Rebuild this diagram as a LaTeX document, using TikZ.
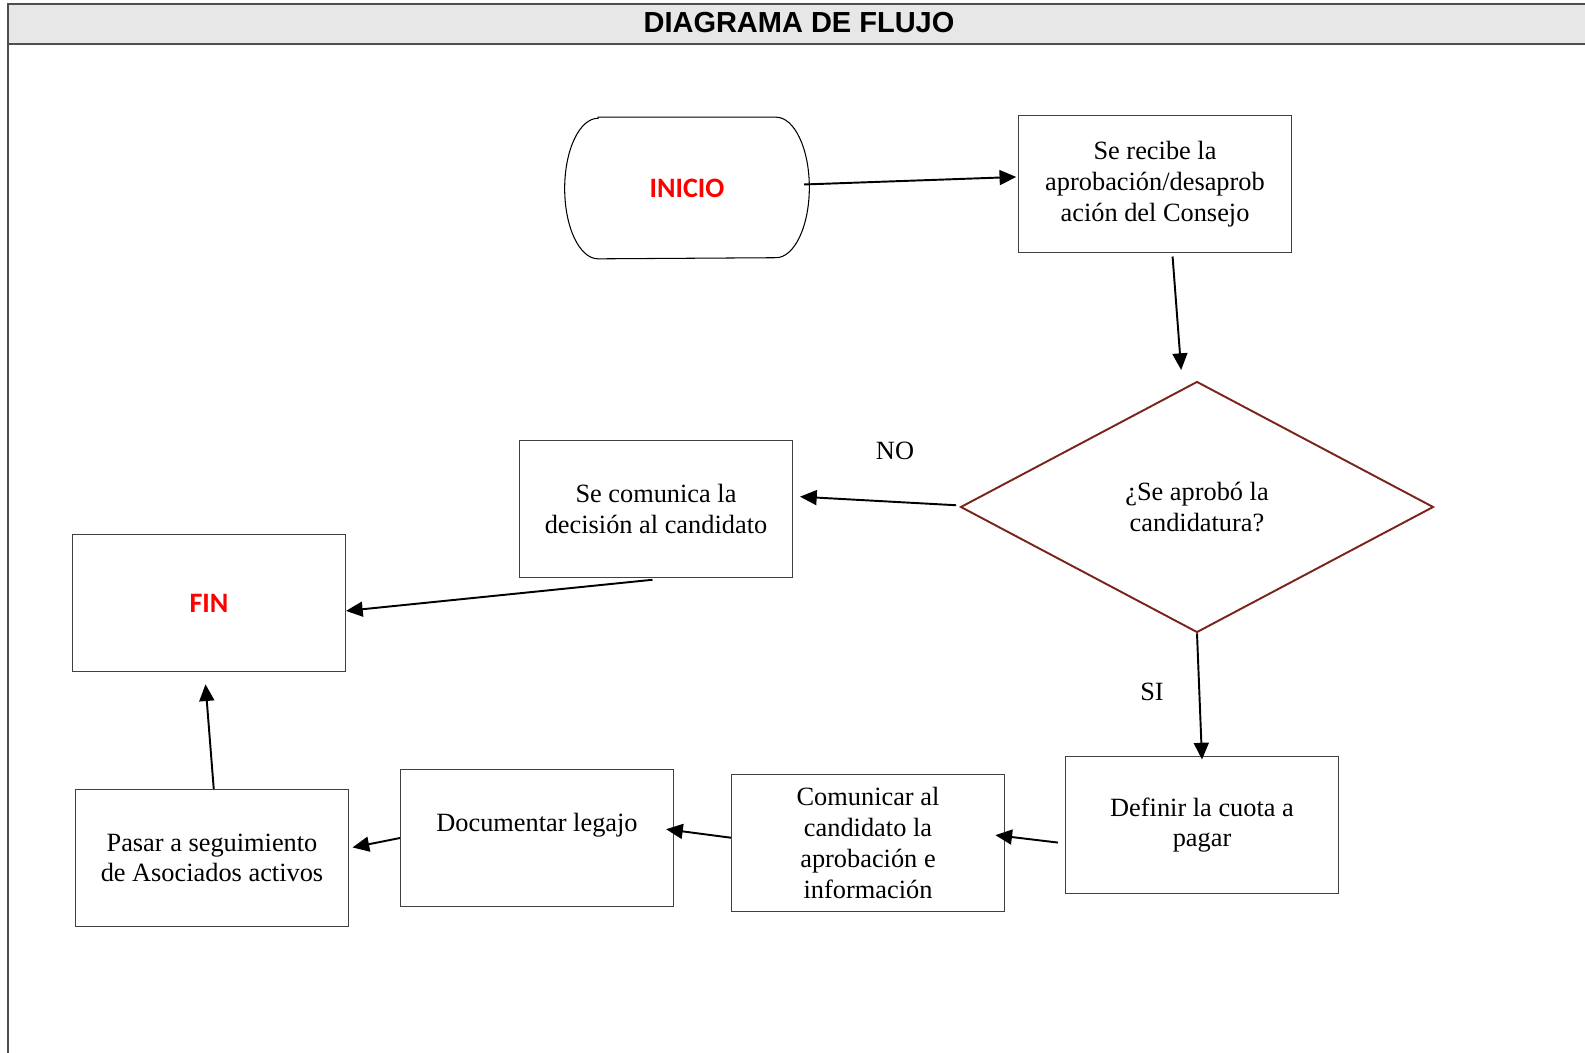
\documentclass[tikz,border=0pt]{standalone}
\usepackage{fontspec}
\setmainfont{Liberation Serif}
\newfontfamily\headfont{Liberation Sans}
\newfontfamily\termfont{Carlito}
\usetikzlibrary{arrows.meta,shapes.geometric}
\definecolor{framegray}{RGB}{77,77,77}
\definecolor{headgray}{RGB}{231,231,231}
\definecolor{decbrown}{RGB}{122,36,28}

\tikzset{
	box/.style={draw=black!75, line width=0.6pt, minimum width=5.46cm, minimum height=2.74cm, align=center, inner sep=2pt},
	flow/.style={line width=1.1pt, -{Triangle[length=9.5pt,width=8.5pt]}},
	term/.style={text=red, font=\termfont\bfseries\fontsize{16}{19}\selectfont}
}

\begin{document}
\begin{tikzpicture}[x=0.02cm, y=-0.02cm, font=\fontsize{15}{17.5}\selectfont]
			\useasboundingbox (0,0) rectangle (1585,1053);
			% marco
			\fill[headgray] (8,4) rectangle (1590,44);
			\draw[framegray, line width=1.4pt] (1590,4) -- (8,4) -- (8,1060) (8,44) -- (1590,44);
			\node (title) at (799,23) {\headfont\bfseries\fontsize{16.5}{19}\selectfont DIAGRAMA DE FLUJO};

			\node[term, minimum width=4.88cm, minimum height=2.82cm] (ini) at (687,188) {INICIO};
			\draw[line width=0.6pt] ([xshift=19pt]ini.north west) -- ([xshift=-19pt]ini.north east) arc (90:-90:19pt and 40pt)
				-- ([xshift=19pt]ini.south west) arc (270:90:19pt and 40pt) -- cycle;
			\node[box] (rec) at (1155,184) {Se recibe la\\aprobación/desaprob\\ación del Consejo};
			\node[diamond, draw=decbrown, line width=1.1pt, minimum width=9.46cm, minimum height=5.02cm, inner sep=0pt, align=center] (dec) at (1197,507) {¿Se aprobó la\\candidatura?};
			\node[box] (com) at (656,509) {Se comunica la\\decisión al candidato};
			\node[box, term] (fin) at (209,603) {FIN};
			\node[box] (def) at (1202,825) {Definir la cuota a\\pagar};
			\node[box] (cmn) at (868,843) {Comunicar al\\candidato la\\aprobación e\\información};
			\node[box] (doc) at (537,838) {Documentar legajo\\~};
			\node[box] (pas) at (212,858) {Pasar a seguimiento\\de Asociados activos};
			\node (no) at (895,451) {NO};
			\node (si) at (1152,692) {SI};

			\path[flow]
			([xshift=-3pt,yshift=2pt]ini.east) edge ([xshift=-1pt,yshift=4pt]rec.west)
			([xshift=10pt,yshift=-2pt]rec.south) edge ([xshift=-9pt,yshift=6pt]dec.north)
			([xshift=-2pt,yshift=1pt]dec.west) edge ([xshift=4pt,yshift=7pt]com.east)
			([xshift=-2pt,yshift=-1pt]com.south) edge ([yshift=-4.5pt]fin.east)
			(dec.south) edge ([yshift=-2pt]def.north)
			([xshift=-4pt,yshift=-10pt]def.west) edge ([xshift=-5.5pt,yshift=4.5pt]cmn.east)
			([yshift=3pt]cmn.west) edge ([xshift=-4.5pt,yshift=5pt]doc.east)
			(doc.west) edge ([xshift=2pt,yshift=6pt]pas.east)
			([xshift=1pt]pas.north) edge ([xshift=-2pt,yshift=-7pt]fin.south);
		\end{tikzpicture}
\end{document}
